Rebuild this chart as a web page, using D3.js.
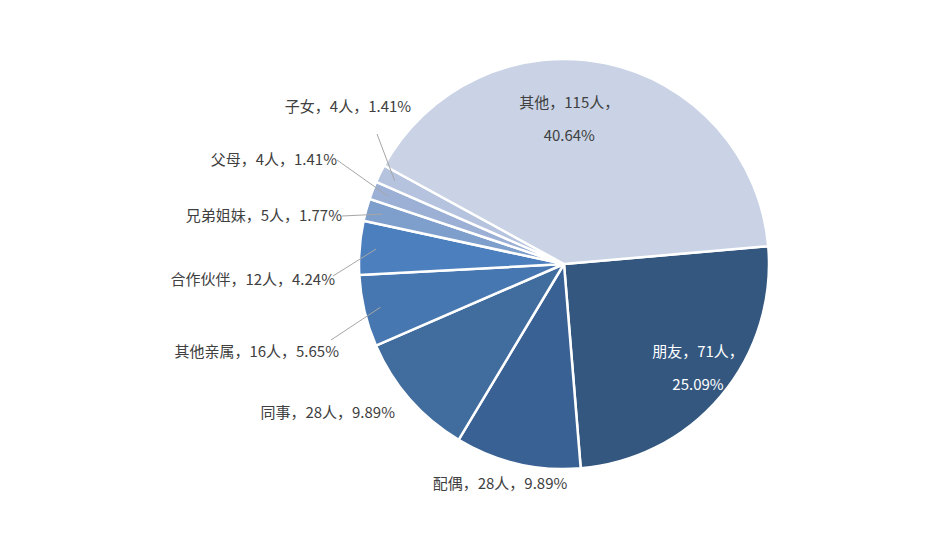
<!DOCTYPE html>
<html><head><meta charset="utf-8">
<script src="https://cdn.jsdelivr.net/npm/d3@7"></script>
<style>body{margin:0;background:#fff}text{font-family:"Noto Sans CJK SC","Noto Sans",sans-serif;font-size:15px}</style>
</head><body><svg id="c" width="934" height="537"></svg>
<script>
const names = ['朋友', '配偶', '同事', '其他亲属', '合作伙伴', '兄弟姐妹', '父母', '子女', '其他'];
const counts = [71, 28, 28, 16, 12, 5, 4, 4, 115];
const pcts = ['25.09%', '9.89%', '9.89%', '5.65%', '4.24%', '1.77%', '1.41%', '1.41%', '40.64%'];
const colors = ['#34577f', '#3a6194', '#416c9e', '#4677b0', '#4c7fbd', '#7e9ecb', '#9cb0d5', '#b5c3de', '#c9d3e5'];
// label layout: [x, y, anchor, leader end x, leader end y] ; null = inside
const labelPos = [null, [500, 484, 'middle'], [395, 413, 'end'], [339, 352, 'end', 331, 340],
  [335, 280, 'end', 333, 276], [342, 216, 'end', 342, 216], [337, 160, 'end', 337, 160],
  [348, 107, 'middle', 377, 134], null];

const svg = d3.select('#c');
const cx = 564, cy = 264, r = 205;
const g = svg.append('g').attr('transform', `translate(${cx},${cy})`);
const pie = d3.pie().sort(null).value(d => d).startAngle(85 * Math.PI / 180).endAngle(85 * Math.PI / 180 + 2 * Math.PI);
const arcs = pie(counts);
const arc = d3.arc().innerRadius(0).outerRadius(r);
g.selectAll('path').data(arcs).enter().append('path')
  .attr('d', arc).attr('fill', (d, i) => colors[i]).attr('stroke', '#fff').attr('stroke-width', 2.5);

const inner = d3.arc().innerRadius(r * 0.92).outerRadius(r * 0.92);
arcs.forEach((d, i) => {
  const lp = labelPos[i];
  const txt = `${names[i]}，${counts[i]}人，${pcts[i]}`;
  if (!lp) {
    const c = d3.arc().innerRadius(r * 0.6).outerRadius(r * 0.6).centroid(d);
    const col = i === 0 ? '#ffffff' : '#404040';
    const off = i === 0 ? [40, 30] : [-20, -20];
    g.append('text').attr('x', c[0] + off[0] - cx + cx).attr('y', c[1] + off[1] - 16).attr('text-anchor', 'middle').attr('fill', col).text(`${names[i]}，${counts[i]}人，`);
    g.append('text').attr('x', c[0] + off[0]).attr('y', c[1] + off[1] + 17).attr('text-anchor', 'middle').attr('fill', col).text(pcts[i]);
    return;
  }
  if (lp[3] !== undefined) {
    const p = inner.centroid(d);
    g.append('line').attr('x1', p[0]).attr('y1', p[1]).attr('x2', lp[3] - cx).attr('y2', lp[4] - cy)
      .attr('stroke', '#a6a6a6').attr('stroke-width', 1);
  }
  svg.append('text').attr('x', lp[0]).attr('y', lp[1]).attr('dy', '0.35em').attr('text-anchor', lp[2]).attr('fill', '#404040').text(txt);
});
</script></body></html>
